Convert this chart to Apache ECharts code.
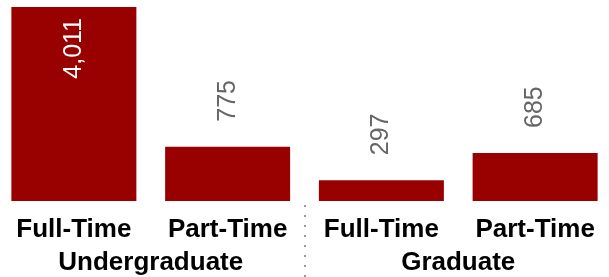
<!DOCTYPE html>
<html>
<head>
<meta charset="utf-8">
<script src="https://cdn.jsdelivr.net/npm/echarts@6/dist/echarts.min.js"></script>
<style>
html,body{margin:0;padding:0;background:#fff;overflow:hidden;width:609px;height:277px;}
#chart{width:615px;height:277px;margin-left:-3px;}
</style>
</head>
<body>
<div id="chart"></div>
<script>
const categories = ['Full-Time', 'Part-Time', 'Full-Time', 'Part-Time'];
const groups = ['Undergraduate', 'Graduate'];
const values = [4011, 775, 297, 685];
const yMax = 2770;

const FONT = '"Liberation Sans", Arial, sans-serif';

const chart = echarts.init(document.getElementById('chart'), null, {renderer: 'canvas'});

const seriesData = values.map(function (v) {
  const item = {value: v};
  if (v > yMax) {
    item.label = {
      position: 'insideTop',
      align: 'right',
      verticalAlign: 'middle',
      distance: 11,
      color: '#ffffff'
    };
  }
  return item;
});

chart.setOption({
  animation: false,
  grid: {left: 0, right: 0, top: 7, bottom: 76, containLabel: false},
  xAxis: [
    {
      type: 'category',
      data: categories,
      position: 'bottom',
      axisLine: {show: false},
      axisTick: {show: false},
      axisLabel: {
        interval: 0,
        margin: 16,
        color: '#000',
        fontFamily: FONT,
        fontWeight: 'bold',
        fontSize: 26
      }
    },
    {
      type: 'category',
      data: groups,
      position: 'bottom',
      offset: 4,
      axisLine: {show: false},
      axisTick: {
        show: true,
        length: 72,
        lineStyle: {color: '#999', width: 2, type: [2, 8]}
      },
      axisLabel: {
        interval: 0,
        margin: 45,
        color: '#000',
        fontFamily: FONT,
        fontWeight: 'bold',
        fontSize: 26
      }
    }
  ],
  yAxis: {
    type: 'value',
    min: 0,
    max: yMax,
    show: false,
    splitLine: {show: false}
  },
  series: [{
    type: 'bar',
    xAxisIndex: 0,
    data: seriesData,
    barWidth: 125,
    clip: true,
    itemStyle: {color: '#990000'},
    label: {
      show: true,
      position: 'top',
      rotate: 90,
      align: 'left',
      verticalAlign: 'middle',
      distance: 25,
      color: '#666666',
      fontFamily: FONT,
      fontSize: 25,
      formatter: function (p) { return p.value.toLocaleString('en-US'); }
    }
  }]
});
</script>
</body>
</html>
